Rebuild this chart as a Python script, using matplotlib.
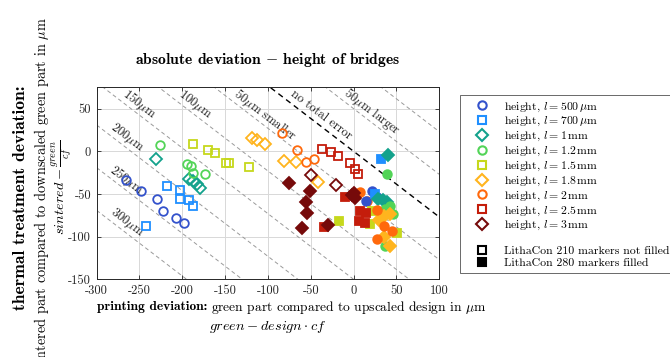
import numpy as np
import matplotlib
matplotlib.use("Agg")
import matplotlib.pyplot as plt
from matplotlib.lines import Line2D

plt.rcParams['font.family'] = ['cmr10', 'DejaVu Serif']
plt.rcParams['mathtext.fontset'] = 'cm'
plt.rcParams['axes.unicode_minus'] = False
plt.rcParams['axes.formatter.use_mathtext'] = True

BOLD = ['cmb10', 'DejaVu Serif']

# ---- data -------------------------------------------------------------
cf = 1.3  # scaling factor between design and green part

series_labels = [r"height, $l = 500\,\mu$m", r"height, $l = 700\,\mu$m",
                 r"height, $l = 1\,$mm", r"height, $l = 1.2\,$mm",
                 r"height, $l = 1.5\,$mm", r"height, $l = 1.8\,$mm",
                 r"height, $l = 2\,$mm", r"height, $l = 2.5\,$mm",
                 r"height, $l = 3\,$mm"]
series_markers = ['o', 's', 'D', 'o', 's', 'D', 'o', 's', 'D']
series_colors = ['#3352cc', '#1f8fff', '#13a28c', '#52d457', '#c6d81c',
                 '#ffb41e', '#ff690c', '#c41d0b', '#760a0a']

# LithaCon 210 (open markers): (printing deviation, thermal deviation) in µm
l500_210 = [(-266, -34), (-248, -46), (-230, -56), (-223, -70), (-207, -78), (-198, -84)]
l700_210 = [(-218, -41), (-203, -45), (-203, -56), (-192, -57), (-187, -64), (-242, -87)]
l1000_210 = [(-231, -9), (-192, -32), (-187, -35), (-183, -38), (-179, -43)]
l1200_210 = [(-226, 7), (-194, -15), (-190, -17), (-188, -25), (-174, -27)]
l1500_210 = [(-188, 8), (-170, 2), (-162, -2), (-149, -14), (-145, -14), (-122, -18)]
l1800_210 = [(-119, 16), (-113, 13), (-104, 9), (-81, -11), (-67, -12), (-41, -36)]
l2000_210 = [(-84, 21), (-66, 2), (-56, -12), (-46, -9), (16, -58)]
l2500_210 = [(-37, 3), (-26, -1), (-18, -5), (-4, -14), (2, -21), (5, -27)]
l3000_210 = [(-50, -28), (-20, -40)]

# LithaCon 280 (filled markers)
l500_280 = [(22, -46), (27, -54), (14, -58)]
l700_280 = [(32, -9), (25, -50)]
l1000_280 = [(40, -4), (34, -57), (39, -59), (29, -56)]
l1200_280 = [(39, -27), (37, -68), (46, -73), (42, -64), (37, -111)]
l1500_280 = [(-17, -82), (19, -85), (51, -96), (22, -70)]
l1800_280 = [(35, -76), (43, -74), (30, -81), (35, -100), (42, -111)]
l2000_280 = [(7, -48), (27, -69), (36, -88), (45, -93), (27, -103)]
l2500_280 = [(-10, -53), (8, -70), (14, -72), (6, -82), (13, -84), (-35, -89)]
l3000_280 = [(-75, -37), (-51, -46), (-56, -59), (-54, -72), (-60, -90), (-30, -86),
             (-2, -51), (2, -55), (0, -49)]

open_sets = [l500_210, l700_210, l1000_210, l1200_210, l1500_210,
             l1800_210, l2000_210, l2500_210, l3000_210]
filled_sets = [l500_280, l700_280, l1000_280, l1200_280, l1500_280,
               l1800_280, l2000_280, l2500_280, l3000_280]

# total-error reference lines: sintered - design = const
total_errors = [100, 50, 0, -50, -100, -150, -200, -250, -300]
line_texts = [r"50$\mu$m larger", "no total error", r"50$\mu$m smaller",
              r"100$\mu$m", r"150$\mu$m", r"200$\mu$m", r"250$\mu$m", r"300$\mu$m"]
line_text_levels = [50, 0, -50, -100, -150, -200, -250, -300]
line_text_x = [22, -38, -103, -185, -250, -265, -265, -265]

x_ticks = [-300, -250, -200, -150, -100, -50, 0, 50, 100]
y_ticks = [-150, -100, -50, 0, 50]

# ---- figure -----------------------------------------------------------
fig = plt.figure(figsize=(6.7, 3.57), dpi=100)
ax = fig.add_axes([0.1443, 0.2176, 0.5112, 0.5379])
ax.set_xlim(-300, 100)
ax.set_ylim(-150, 75)

ax.set_xticks(x_ticks, [str(t) for t in x_ticks])
ax.set_yticks(y_ticks, [str(t) for t in y_ticks])
ax.tick_params(direction='in', length=3, width=0.6, top=True, right=True,
               labelsize=9, colors='#262626', pad=4)
ax.grid(True, color='#d8d8d8', linewidth=0.7, zorder=0)
ax.set_axisbelow(True)
for sp in ax.spines.values():
    sp.set_linewidth(0.7)
    sp.set_color('#262626')

xx = np.array([-300.0, 100.0])
for c in total_errors:
    if c == 0:
        ax.plot(xx, c - xx / cf, color='black', linestyle=(0, (4, 3)), linewidth=1.0, zorder=1)
    else:
        ax.plot(xx, c - xx / cf, color='#9a9a9a', linestyle=(0, (4, 3)), linewidth=0.7, zorder=1)

for pts, col, mk in zip(open_sets, series_colors, series_markers):
    p = np.array(pts, dtype=float)
    ms = 6.2 if mk == 'o' else (5.4 if mk == 's' else 5.8)
    ax.plot(p[:, 0], p[:, 1], linestyle='none', marker=mk, markersize=ms,
            markerfacecolor='none', markeredgecolor=col, markeredgewidth=1.3, zorder=3)
for pts, col, mk in zip(filled_sets, series_colors, series_markers):
    p = np.array(pts, dtype=float)
    ms = 6.2 if mk == 'o' else (5.4 if mk == 's' else 5.8)
    ax.plot(p[:, 0], p[:, 1], linestyle='none', marker=mk, markersize=ms,
            markerfacecolor=col, markeredgecolor=col, markeredgewidth=1.3, zorder=3)

# rotation of the reference-line annotations
fig.canvas.draw()
p0 = ax.transData.transform((0, 0))
p1 = ax.transData.transform((100, -100 / cf))
angle = np.degrees(np.arctan2(p1[1] - p0[1], p1[0] - p0[0]))
for txt, lev, tx in zip(line_texts, line_text_levels, line_text_x):
    ax.text(tx, lev - tx / cf + 13, txt, rotation=angle, rotation_mode='anchor',
            ha='center', va='center', fontsize=9, color='#1a1a1a', zorder=2)

# title
fig.text(0.4, 0.832, r"absolute deviation $-$ height of bridges",
         ha='center', va='center', fontsize=11.3, family=BOLD)

# x label: bold lead-in followed by regular text
xl_bold = fig.text(97 / 670, 0.140, "printing deviation:", ha='left', va='center',
                   fontsize=9.7, family=BOLD)
fig.canvas.draw()
ext = xl_bold.get_window_extent()
fig.text(ext.x1 / fig.bbox.width + 4 / 670, 0.140,
         r"green part compared to upscaled design in $\mu$m",
         ha='left', va='center', fontsize=9.7)
fig.text(0.399, 0.084, r"$green - design \cdot cf$", ha='center', va='center', fontsize=10.3)

# y label, three lines
fig.text(0.031, 0.445, "thermal treatment deviation:", rotation=90,
         ha='center', va='center', fontsize=12.6, family=BOLD)
fig.text(0.062, 0.462, r"sintered part compared to downscaled green part in $\mu$m",
         rotation=90, ha='center', va='center', fontsize=10.3)
fig.text(0.092, 0.475, r"$sintered - \frac{green}{cf}$", rotation=90,
         ha='center', va='center', fontsize=10.3)

# legend
handles = [Line2D([], [], linestyle='none', marker=mk, markersize=6,
                  markerfacecolor='none', markeredgecolor=col, markeredgewidth=1.5)
           for mk, col in zip(series_markers, series_colors)]
labels = list(series_labels)
handles.append(Line2D([], [], linestyle='none'))
labels.append(" ")
handles.append(Line2D([], [], linestyle='none', marker='s', markersize=6,
                      markerfacecolor='none', markeredgecolor='black', markeredgewidth=1.5))
labels.append("LithaCon 210 markers not filled")
handles.append(Line2D([], [], linestyle='none', marker='s', markersize=6,
                      markerfacecolor='black', markeredgecolor='black', markeredgewidth=1.5))
labels.append("LithaCon 280 markers filled")
leg = fig.legend(handles, labels, loc='upper left', bbox_to_anchor=(460 / 670, 1 - 95 / 357),
                 fontsize=8.5, frameon=True, fancybox=False, edgecolor='#262626',
                 handlelength=2.8, handletextpad=0.5, labelspacing=0.13,
                 borderpad=0.45, borderaxespad=0)
leg.get_frame().set_linewidth(0.6)

fig.savefig("out.png", dpi=100)
